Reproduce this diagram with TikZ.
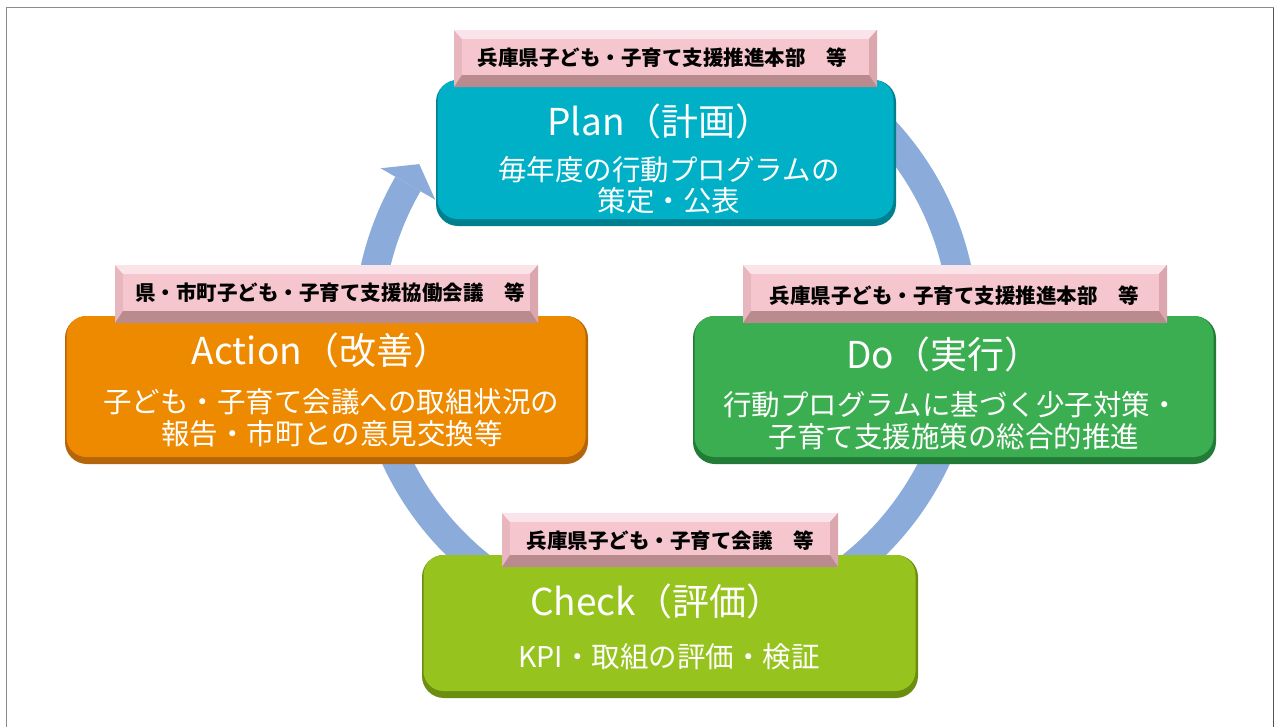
\documentclass[tikz,border=0pt]{standalone}
\usepackage{fontspec}
\setmainfont{Noto Sans CJK JP}
\usetikzlibrary{calc}
\definecolor{arcblue}{HTML}{8BACDA}
\definecolor{tealmain}{HTML}{00B0C6}
\definecolor{tealdark}{HTML}{00808F}
\definecolor{orgmain}{HTML}{EE8A00}
\definecolor{orgdark}{HTML}{B5660A}
\definecolor{grnmain}{HTML}{3AAE50}
\definecolor{grndark}{HTML}{227C38}
\definecolor{limemain}{HTML}{97C31E}
\definecolor{limedark}{HTML}{6C8E10}
\definecolor{pinkface}{HTML}{F5C6CE}
\definecolor{pinktop}{HTML}{FBE4E9}
\definecolor{pinkside}{HTML}{E8B6BE}
\definecolor{pinkright}{HTML}{DCA6AE}
\definecolor{pinkbot}{HTML}{B98A8E}
\definecolor{framegray}{HTML}{8C8C8C}
\definecolor{framedark}{HTML}{555555}
\tikzset{
  boxbase/.style={rounded corners=22pt, inner sep=0pt, outer sep=0pt},
  tabbase/.style={fill=pinkside, inner sep=0pt, outer sep=0pt},
  tabtext/.style={text=black, font=\fontsize{20.5}{20.5}\selectfont\bfseries, inner sep=0pt},
  titletext/.style={text=white, font=\fontsize{37}{37}\selectfont, inner sep=0pt},
  bodytext/.style={text=white, font=\fontsize{28.5}{28.5}\selectfont, inner sep=0pt},
  arcband/.style={draw=arcblue, line width=29pt},
  archead/.style={fill=arcblue},
}
% box: name, x1, y1, x2, y2, main, dark
\newcommand\pdcabox[7]{%
  \node[boxbase, fill=#7, minimum width={#4-#2}, minimum height={#5-#3}]
    (#1) at ({(#2+#4)/2},{(#3+#5)/2}) {};
  \fill[#6, rounded corners=20pt] ($(#1.north west)+(1.5,0)$) rectangle ($(#1.south east)+(-2.5,-7)$);
}
% tab: name, x1, y1, x2, y2
\newcommand\pdcatab[5]{%
  \node[tabbase, minimum width={#4-#2}, minimum height={#5-#3}]
    (#1) at ({(#2+#4)/2},{(#3+#5)/2}) {};
  \fill[pinktop] (#2,#3) -- (#4,#3) -- ({#4-8},{#3+9}) -- ({#2+8},{#3+9}) -- cycle;
  \fill[pinkright] (#4,#3) -- ({#4-8},{#3+9}) -- ({#4-8},{#5-12}) -- (#4,#5) -- cycle;
  \fill[pinkbot] (#2,#5) -- (#4,#5) -- ({#4-8},{#5-12}) -- ({#2+8},{#5-12}) -- cycle;
  \fill[pinkface] ({#2+8},{#3+9}) rectangle ({#4-8},{#5-12});
}
\begin{document}
\begin{tikzpicture}[x=1pt,y=-1pt]
\useasboundingbox (0,0) rectangle (1280,726);
\fill[white] (0,0) rectangle (1280,726);
% frame
\draw[framegray, line width=1.5] (6.5,730) -- (6.5,7.5) -- (1273.5,7.5);
\draw[framedark, line width=1.5] (1273.5,7.5) -- (1273.5,730);
% cycle arrow
\coordinate (ctr) at (666,333);
\draw[arcband] (ctr) ++(-55:298) arc[start angle=-55, end angle=210, radius=298];
\fill[archead] ($(ctr)+(210:329.5)$) -- ($(ctr)+(214.4:299)$) -- ($(ctr)+(210:266.5)$) -- cycle;
% boxes
\pdcabox{plan}{436}{80}{896}{226}{tealmain}{tealdark}
\pdcabox{action}{65}{316}{588}{464}{orgmain}{orgdark}
\pdcabox{do}{693}{316}{1216}{464}{grnmain}{grndark}
\pdcabox{check}{422}{555}{918}{698}{limemain}{limedark}
% tabs
\pdcatab{plantab}{454}{30}{877}{87}
\pdcatab{actiontab}{115}{265}{538}{323}
\pdcatab{dotab}{743}{265}{1167}{323}
\pdcatab{checktab}{502}{513}{838}{567}
% tab texts
\node[tabtext] (plantabtxt) at (662,58) {兵庫県子ども・子育て支援推進本部　等};
\node[tabtext] (actiontabtxt) at (330,293) {県・市町子ども・子育て支援協働会議　等};
\node[tabtext] (dotabtxt) at (954,296) {兵庫県子ども・子育て支援推進本部　等};
\node[tabtext] (checktabtxt) at (670,541) {兵庫県子ども・子育て会議　等};
% titles
\node[titletext] (plantitle) at (660,121) {Plan（計画）};
\node[titletext] (actiontitle) at (321,350) {Action（改善）};
\node[titletext] (dotitle) at (944,354) {Do（実行）};
\node[titletext] (checktitle) at (657,601) {Check（評価）};
% body texts
\node[bodytext] (planl1) at (669,170) {毎年度の行動プログラムの};
\node[bodytext] (planl2) at (669,201) {策定・公表};
\node[bodytext] (actionl1) at (331,402) {子ども・子育て会議への取組状況の};
\node[bodytext] (actionl2) at (332,434) {報告・市町との意見交換等};
\node[bodytext] (dol1) at (951,405) {行動プログラムに基づく少子対策・};
\node[bodytext] (dol2) at (954,437) {子育て支援施策の総合的推進};
\node[bodytext] (checkl1) at (669,657) {KPI・取組の評価・検証};
\end{tikzpicture}
\end{document}
